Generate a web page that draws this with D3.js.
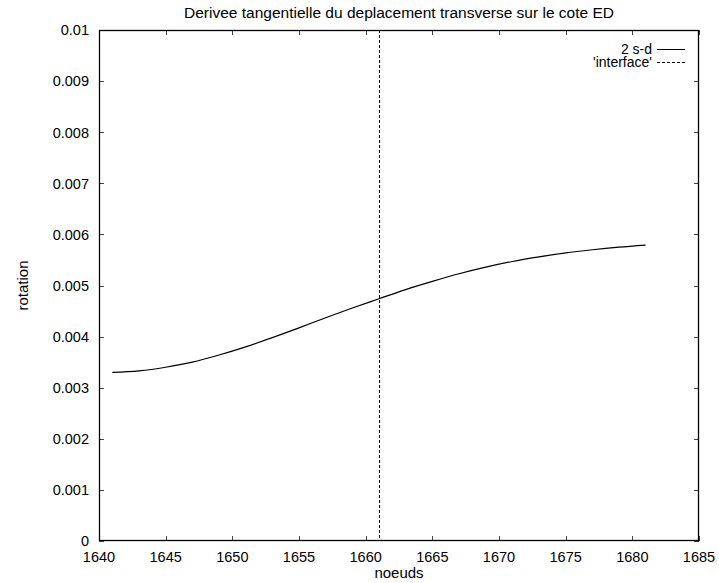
<!DOCTYPE html>
<html>
<head>
<meta charset="utf-8">
<script src="https://cdn.jsdelivr.net/npm/d3@7"></script>
<style>
  html, body { margin: 0; padding: 0; background: #fff; }
  svg { display: block; font-family: "Liberation Sans", Arial, Helvetica, sans-serif; }
</style>
</head>
<body>
<svg id="chart" width="719" height="583"></svg>
<script>
// Nodes along side ED and the tangential derivative of the transverse displacement
const nodes = [1641, 1643, 1645, 1647, 1649, 1651, 1653, 1655, 1657, 1659, 1661,
               1663, 1665, 1667, 1669, 1671, 1673, 1675, 1677, 1679, 1681];
const rotation = [0.00330, 0.00333, 0.00340, 0.00350, 0.00364, 0.00380, 0.00398,
                  0.00417, 0.00437, 0.00456, 0.00474, 0.00492, 0.00508, 0.00523,
                  0.00536, 0.00547, 0.00556, 0.00564, 0.00570, 0.00575, 0.00579];
// Interface position (node number)
const interfaceNode = [1661];

const xTicks = [1640, 1645, 1650, 1655, 1660, 1665, 1670, 1675, 1680, 1685];
const yTicks = [0, 0.001, 0.002, 0.003, 0.004, 0.005, 0.006, 0.007, 0.008, 0.009, 0.01];
const yTickLabels = ["0", "0.001", "0.002", "0.003", "0.004", "0.005", "0.006",
                     "0.007", "0.008", "0.009", "0.01"];

const titleText = "Derivee tangentielle du deplacement transverse sur le cote ED";
const legendLabels = ["2 s-d", "'interface'"];

(function () {
  const svg = d3.select("#chart");
  const pL = 99, pR = 699, pT = 30, pB = 541;

  const x = d3.scaleLinear().domain([1640, 1685]).range([pL, pR]);
  const y = d3.scaleLinear().domain([0, 0.01]).range([pB, pT]);

  const tickFont = 14.5;
  const labelFont = 15;
  const tickLen = 5;

  // ticks (inward, mirrored on opposite sides)
  const tickG = svg.append("g").attr("stroke", "#444").attr("stroke-width", 1);
  xTicks.forEach(t => {
    const px = Math.round(x(t)) + 0.5;
    tickG.append("line").attr("x1", px).attr("x2", px).attr("y1", pB).attr("y2", pB - tickLen);
    tickG.append("line").attr("x1", px).attr("x2", px).attr("y1", pT).attr("y2", pT + tickLen);
  });
  yTicks.forEach(t => {
    const py = Math.round(y(t)) + 0.5;
    tickG.append("line").attr("x1", pL).attr("x2", pL + tickLen).attr("y1", py).attr("y2", py);
    tickG.append("line").attr("x1", pR).attr("x2", pR - tickLen).attr("y1", py).attr("y2", py);
  });

  // tick labels
  svg.append("g").selectAll("text").data(xTicks).join("text")
    .attr("x", d => x(d)).attr("y", pB + 21)
    .attr("text-anchor", "middle").attr("font-size", tickFont).attr("fill", "#000")
    .text(d => d);
  svg.append("g").selectAll("text").data(yTicks).join("text")
    .attr("x", pL - 10).attr("y", d => y(d) + 5.3)
    .attr("text-anchor", "end").attr("font-size", tickFont).attr("fill", "#000")
    .text((d, i) => yTickLabels[i]);

  // frame
  svg.append("rect")
    .attr("x", pL + 0.5).attr("y", pT + 0.5)
    .attr("width", pR - pL - 1).attr("height", pB - pT - 1)
    .attr("fill", "none").attr("stroke", "#000").attr("stroke-width", 1.3);

  // title and axis labels
  svg.append("text").attr("x", (pL + pR) / 2).attr("y", 18)
    .attr("text-anchor", "middle").attr("font-size", 15.5).text(titleText);
  svg.append("text").attr("x", (pL + pR) / 2).attr("y", 578)
    .attr("text-anchor", "middle").attr("font-size", labelFont).text("noeuds");
  svg.append("text")
    .attr("transform", `translate(28, ${(pT + pB) / 2}) rotate(-90)`)
    .attr("text-anchor", "middle").attr("font-size", labelFont).text("rotation");

  // interface line
  svg.append("g").selectAll("line").data(interfaceNode).join("line")
    .attr("x1", d => Math.round(x(d)) + 0.5).attr("x2", d => Math.round(x(d)) + 0.5)
    .attr("y1", pT).attr("y2", pB)
    .attr("stroke", "#000").attr("stroke-width", 1).attr("stroke-dasharray", "3,2");

  // curve
  const line = d3.line()
    .x((d, i) => x(nodes[i]))
    .y(d => y(d))
    .curve(d3.curveMonotoneX);
  svg.append("path").datum(rotation)
    .attr("d", line)
    .attr("fill", "none").attr("stroke", "#000").attr("stroke-width", 1.2);

  // legend
  const legY = [49, 62];
  const legTextX = 652, legLineX1 = 657, legLineX2 = 685;
  legendLabels.forEach((lab, i) => {
    svg.append("text").attr("x", legTextX).attr("y", legY[i] + 5)
      .attr("text-anchor", "end").attr("font-size", 14).text(lab);
    svg.append("line")
      .attr("x1", legLineX1).attr("x2", legLineX2)
      .attr("y1", legY[i] + 0.5).attr("y2", legY[i] + 0.5)
      .attr("stroke", "#000").attr("stroke-width", 1)
      .attr("stroke-dasharray", i === 1 ? "3,2" : null);
  });
})();
</script>
</body>
</html>
